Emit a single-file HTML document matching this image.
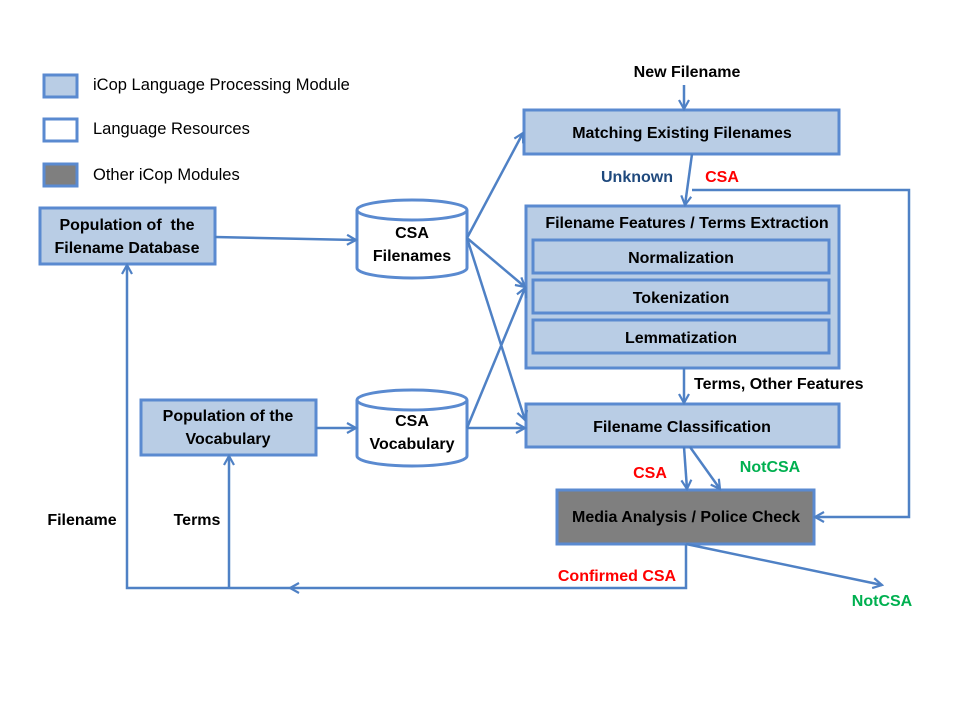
<!DOCTYPE html>
<html><head><meta charset="utf-8"><style>
body{margin:0;background:#fff}
svg text{font-family:"Liberation Sans",Arial,sans-serif;font-size:16.5px}
.b{font-weight:bold;font-size:16px}
</style></head><body>
<svg width="960" height="720" viewBox="0 0 960 720" xmlns="http://www.w3.org/2000/svg">
<defs>
<marker id="a" markerWidth="12" markerHeight="12" refX="10" refY="6" orient="auto" markerUnits="userSpaceOnUse">
<path d="M1,1 L10,6 L1,11" fill="none" stroke="#4f81c5" stroke-width="2.2"/>
</marker>
</defs>
<g stroke="#5a8ad0" stroke-width="3">
<rect x="44" y="75" width="33" height="22" fill="#b9cde5"/>
<rect x="44" y="119" width="33" height="22" fill="#fff"/>
<rect x="44" y="164" width="33" height="22" fill="#7f7f7f"/>
<rect x="40" y="208" width="175" height="56" fill="#b9cde5"/>
<rect x="141" y="400" width="175" height="55" fill="#b9cde5"/>
<rect x="524" y="110" width="315" height="44" fill="#b9cde5"/>
<rect x="526" y="206" width="313" height="162" fill="#b9cde5"/>
<rect x="533" y="240" width="296" height="33" fill="#b9cde5"/>
<rect x="533" y="280" width="296" height="33" fill="#b9cde5"/>
<rect x="533" y="320" width="296" height="33" fill="#b9cde5"/>
<rect x="526" y="404" width="313" height="43" fill="#b9cde5"/>
<rect x="557" y="490" width="257" height="54" fill="#7f7f7f"/>
<path d="M357,210 V268 A55,10 0 0 0 467,268 V210 A55,10 0 0 0 357,210 A55,10 0 0 0 467,210" fill="#fff"/>
<path d="M357,400 V456 A55,10 0 0 0 467,456 V400 A55,10 0 0 0 357,400 A55,10 0 0 0 467,400" fill="#fff"/>
</g>
<g stroke="#4f81c5" stroke-width="2.5" fill="none" marker-end="url(#a)">
<path d="M684,85 V109"/>
<path d="M692,154 L685,205"/>
<path d="M692,190 H909 V517 H815"/>
<path d="M215,237 L356,240"/>
<path d="M467,238 L523,133"/>
<path d="M467,238 L525,287"/>
<path d="M467,238 L525,420"/>
<path d="M467,428 L525,288"/>
<path d="M467,428 L525,428"/>
<path d="M316,428 L356,428"/>
<path d="M684,368 V403"/>
<path d="M684,447 L687,489"/>
<path d="M690,447 L720,489"/>
<path d="M686,544 L882,585"/>
<path d="M686,544 V588 H290"/>
<path d="M290,588 H127 V265" />
<path d="M229,588 V456"/>
</g>
<g fill="#000">
<text x="93" y="90">iCop Language Processing Module</text>
<text x="93" y="134">Language Resources</text>
<text x="93" y="180">Other iCop Modules</text>
<g text-anchor="middle">
<text x="127" y="230" class="b" xml:space="preserve">Population of  the</text>
<text x="127" y="253" class="b">Filename Database</text>
<text x="228" y="421" class="b">Population of the</text>
<text x="228" y="444" class="b">Vocabulary</text>
<text x="412" y="238" class="b">CSA</text>
<text x="412" y="261" class="b">Filenames</text>
<text x="412" y="426" class="b">CSA</text>
<text x="412" y="449" class="b">Vocabulary</text>
<text x="687" y="77" class="b">New Filename</text>
<text x="682" y="138" class="b">Matching Existing Filenames</text>
<text x="687" y="228" class="b">Filename Features / Terms Extraction</text>
<text x="681" y="263" class="b">Normalization</text>
<text x="681" y="303" class="b">Tokenization</text>
<text x="681" y="343" class="b">Lemmatization</text>
<text x="682" y="432" class="b">Filename Classification</text>
<text x="686" y="522" class="b">Media Analysis / Police Check</text>
<text x="637" y="182" class="b" fill="#1f497d">Unknown</text>
<text x="722" y="182" class="b" fill="#ff0000">CSA</text>
<text x="650" y="478" class="b" fill="#ff0000">CSA</text>
<text x="770" y="472" class="b" fill="#00b050">NotCSA</text>
<text x="882" y="606" class="b" fill="#00b050">NotCSA</text>
<text x="617" y="581" class="b" fill="#ff0000">Confirmed CSA</text>
<text x="82" y="525" class="b">Filename</text>
<text x="197" y="525" class="b">Terms</text>
</g>
<text x="694" y="389" class="b">Terms, Other Features</text>
</g>
</svg>
</body></html>
